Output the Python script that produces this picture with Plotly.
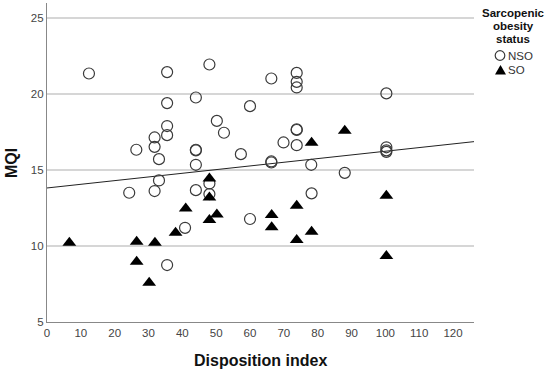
import numpy as np
import plotly.graph_objects as go

# NSO (non-sarcopenic obesity) points
nso_x = [12.4, 35.5, 44.0, 35.5, 35.5, 35.5, 31.8, 31.8, 26.4, 33.1, 44.0, 44.0, 44.0, 33.1,
         24.3, 31.8, 44.0, 40.8, 35.5, 48.0, 66.3, 73.8, 73.8, 73.8, 60.0, 50.2, 52.3,
         73.8, 73.8, 69.9, 73.8, 57.3, 66.3, 66.3, 78.1, 88.0, 48.0, 48.0, 78.2, 60.0,
         100.3, 100.3, 100.3, 100.3]
nso_y = [21.36, 21.45, 19.78, 19.41, 17.9, 17.3, 17.15, 16.53, 16.34, 15.72, 16.34, 16.30, 15.35, 14.32,
         13.51, 13.62, 13.68, 11.2, 8.75, 21.95, 21.03, 21.4, 20.81, 20.44, 19.21, 18.24, 17.46,
         17.68, 17.64, 16.82, 16.64, 16.05, 15.57, 15.50, 15.35, 14.82, 14.12, 13.42, 13.47, 11.78,
         20.05, 16.5, 16.3, 16.2]

# SO (sarcopenic obesity) points
so_x = [6.6, 26.5, 31.9, 26.5, 30.2, 38.0, 41.0, 48.0, 48.0, 50.2, 66.4, 66.4, 73.8, 73.8,
        78.2, 48.0, 78.2, 88.0, 100.3, 100.3]
so_y = [10.22, 10.29, 10.22, 8.97, 7.59, 10.88, 12.48, 13.2, 11.71, 12.08, 12.04, 11.23, 12.65, 10.39,
        10.94, 14.45, 16.8, 17.59, 13.31, 9.34]

x_ticks = [0, 10, 20, 30, 40, 50, 60, 70, 80, 90, 100, 110, 120]
y_ticks = [5, 10, 15, 20, 25]
x_range = [0, 126.2]
y_range = [5, 26]

legend_title = ["Sarcopenic", "obesity", "status"]
legend_items = ["NSO", "SO"]

FONT = "Liberation Sans, Arial, sans-serif"

all_x = np.array(nso_x + so_x)
all_y = np.array(nso_y + so_y)
slope, intercept = np.polyfit(all_x, all_y, 1)
fit_x = np.array(x_range)
fit_y = intercept + slope * fit_x

fig = go.Figure()
fig.add_trace(go.Scatter(x=fit_x, y=fit_y, mode="lines", line=dict(color="#222222", width=1),
                         showlegend=False, hoverinfo="skip"))
fig.add_trace(go.Scatter(x=nso_x, y=nso_y, mode="markers", name="NSO",
                         marker=dict(symbol="circle-open", size=11, color="#3a3a3a",
                                     line=dict(width=1.2, color="#3a3a3a")),
                         showlegend=False))
fig.add_trace(go.Scatter(x=so_x, y=so_y, mode="markers", name="SO",
                         marker=dict(symbol="triangle-up", size=12, color="black",
                                     line=dict(width=0)),
                         showlegend=False))

W, H = 550, 371
L, R, T, B = 47, 76, 3, 49
pw, ph = W - L - R, H - T - B

def px_x(p):
    return (p - L) / pw

def px_y(p):
    return (H - B - p) / ph

annotations = []
# axis titles
annotations.append(dict(text="<b>Disposition index</b>", xref="paper", yref="paper",
                        x=px_x(260), y=px_y(360), showarrow=False, xanchor="center", yanchor="middle",
                        font=dict(family=FONT, size=16, color="#111111")))
annotations.append(dict(text="<b>MQI</b>", xref="paper", yref="paper", textangle=-90,
                        x=px_x(12), y=px_y(163), showarrow=False, xanchor="center", yanchor="middle",
                        font=dict(family=FONT, size=16, color="#111111")))

# manual legend
title_y = [13, 26, 39]
for t, yy in zip(legend_title, title_y):
    annotations.append(dict(text="<b>%s</b>" % t, xref="paper", yref="paper",
                            x=px_x(513), y=px_y(yy), showarrow=False, xanchor="center",
                            yanchor="middle", borderpad=0,
                            font=dict(family=FONT, size=11.5, color="#111111")))
item_y = [55.5, 70]
for t, yy in zip(legend_items, item_y):
    annotations.append(dict(text=t, xref="paper", yref="paper", x=px_x(507), y=px_y(yy),
                            showarrow=False, xanchor="left", yanchor="middle", borderpad=0,
                            font=dict(family=FONT, size=11.5, color="#333333")))

shapes = [
    dict(type="circle", xref="paper", yref="paper", xsizemode="pixel", ysizemode="pixel",
         xanchor=px_x(500), yanchor=px_y(55.5), x0=-4.8, x1=4.8, y0=-4.8, y1=4.8,
         line=dict(color="#3a3a3a", width=1.2)),
    dict(type="path", xref="paper", yref="paper", xsizemode="pixel", ysizemode="pixel",
         xanchor=px_x(500.5), yanchor=px_y(70), path="M -5.5 -4.5 L 5.5 -4.5 L 0 5 Z",
         fillcolor="black", line=dict(width=0)),
]

fig.update_layout(
    width=W, height=H,
    margin=dict(l=L, r=R, t=T, b=B, autoexpand=False),
    paper_bgcolor="white", plot_bgcolor="white",
    font=dict(family=FONT, size=11, color="#333333"),
    showlegend=False,
    annotations=annotations,
    shapes=shapes,
    xaxis=dict(range=x_range, tickvals=x_ticks, showgrid=False, zeroline=False, automargin=False,
               showline=True, linecolor="#888888", linewidth=1.2, ticks="",
               tickfont=dict(size=11.5, color="#444444")),
    yaxis=dict(range=y_range, tickvals=y_ticks, showgrid=True, gridcolor="#d6d6d6", gridwidth=1.5,
               zeroline=False, showline=True, linecolor="#888888", linewidth=1.2, ticks="",
               automargin=False, tickfont=dict(size=11.5, color="#444444")),
)

fig.write_html("out.html", config={"displayModeBar": False},
               post_script="document.body.style.margin='0px';")
